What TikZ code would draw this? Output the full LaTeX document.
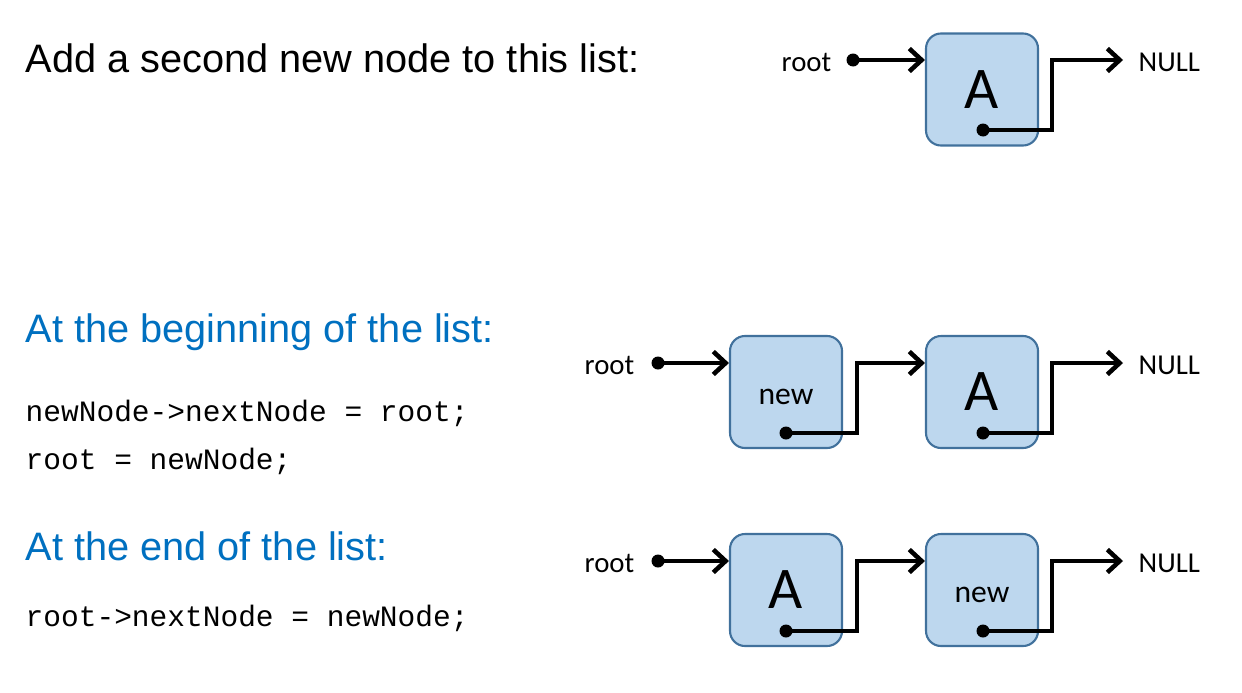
\documentclass[tikz,border=0pt]{standalone}
\usepackage{fontspec}
\setmainfont{Liberation Sans}
\setmonofont{Liberation Mono}
\newfontfamily\calibri{Carlito}
\usetikzlibrary{arrows.meta,calc}
\definecolor{boxfill}{HTML}{BDD7EE}
\definecolor{boxline}{HTML}{41719C}
\definecolor{titleblue}{HTML}{0070C0}
\tikzset{
  elem/.style={draw=boxline,fill=boxfill,rounded corners=0.15cm,line width=0.6pt,
    minimum width=1.12cm,minimum height=1.12cm,inner sep=0pt,text height=7.4pt,
    font=\calibri\fontsize{9}{11}\selectfont},
  big/.style={text height=10.8pt,font=\calibri\fontsize{16.8}{20}\selectfont},
  lien/.style={line width=1.3pt,-{Straight Barb[length=3.5pt,width=6.5pt]}},
  etiq/.style={inner sep=0pt,font=\calibri\fontsize{8.2}{10}\selectfont},
  titre/.style={inner sep=0pt,anchor=base west,font=\fontsize{11.3}{13}\selectfont},
  code/.style={inner sep=0pt,anchor=base west,font=\ttfamily\fontsize{8.4}{10}\selectfont},
}
\begin{document}
\begin{tikzpicture}
    \useasboundingbox (0,0) rectangle (12.42,6.92);
    % titres
    \node[titre] (t0) at (0.25,6.20) {Add a second new node to this list:};
    \node[titre,text=titleblue] (t1) at (0.25,3.50) {At the beginning of the list:};
    \node[titre,text=titleblue] (t2) at (0.25,1.32) {At the end of the list:};
    \node[code] (c0) at (0.25,2.705) {newNode->nextNode = root;};
    \node[code] (c1) at (0.25,2.23) {root = newNode;};
    \node[code] (c2) at (0.25,0.653) {root->nextNode = newNode;};
    % liste initiale
    \node[elem,big] (A0) at (9.82,6.025) {A};
    \node[etiq,anchor=base east] (root0) at (8.32,6.205) {root};
    \node[etiq,anchor=base west] (null0) at (11.38,6.205) {NULL};
    \coordinate (r0) at (8.53,6.32);
    \coordinate (p0) at (9.83,5.62);
    \coordinate (k0) at (10.52,6.32);
    \coordinate (n0) at (11.23,6.32);
    \draw[lien] (r0) -- (r0 -| A0.west);
    \draw[lien] (p0) -| (k0) -- (n0);
    \fill (r0) circle (0.065) (p0) circle (0.065);
    % ajout au debut
    \node[elem] (B1) at (7.86,3.00) {new};
    \node[elem,big] (B2) at (9.82,3.00) {A};
    \node[etiq,anchor=base east] (root1) at (6.35,3.18) {root};
    \node[etiq,anchor=base west] (null1) at (11.38,3.18) {NULL};
    \coordinate (r1) at (6.58,3.29);
    \coordinate (p1) at (7.86,2.59);
    \coordinate (k1) at (8.57,3.29);
    \coordinate (p2) at (9.83,2.59);
    \coordinate (k2) at (10.52,3.29);
    \coordinate (n1) at (11.23,3.29);
    \draw[lien] (r1) -- (r1 -| B1.west);
    \draw[lien] (p1) -| (k1) -- (k1 -| B2.west);
    \draw[lien] (p2) -| (k2) -- (n1);
    \fill (r1) circle (0.065) (p1) circle (0.065) (p2) circle (0.065);
    % ajout a la fin
    \node[elem,big] (C1) at (7.86,1.02) {A};
    \node[elem] (C2) at (9.82,1.02) {new};
    \node[etiq,anchor=base east] (root2) at (6.35,1.20) {root};
    \node[etiq,anchor=base west] (null2) at (11.38,1.20) {NULL};
    \coordinate (r2) at (6.58,1.31);
    \coordinate (p3) at (7.86,0.61);
    \coordinate (k3) at (8.57,1.31);
    \coordinate (p4) at (9.83,0.61);
    \coordinate (k4) at (10.52,1.31);
    \coordinate (n2) at (11.23,1.31);
    \draw[lien] (r2) -- (r2 -| C1.west);
    \draw[lien] (p3) -| (k3) -- (k3 -| C2.west);
    \draw[lien] (p4) -| (k4) -- (n2);
    \fill (r2) circle (0.065) (p3) circle (0.065) (p4) circle (0.065);
\end{tikzpicture}
\end{document}
